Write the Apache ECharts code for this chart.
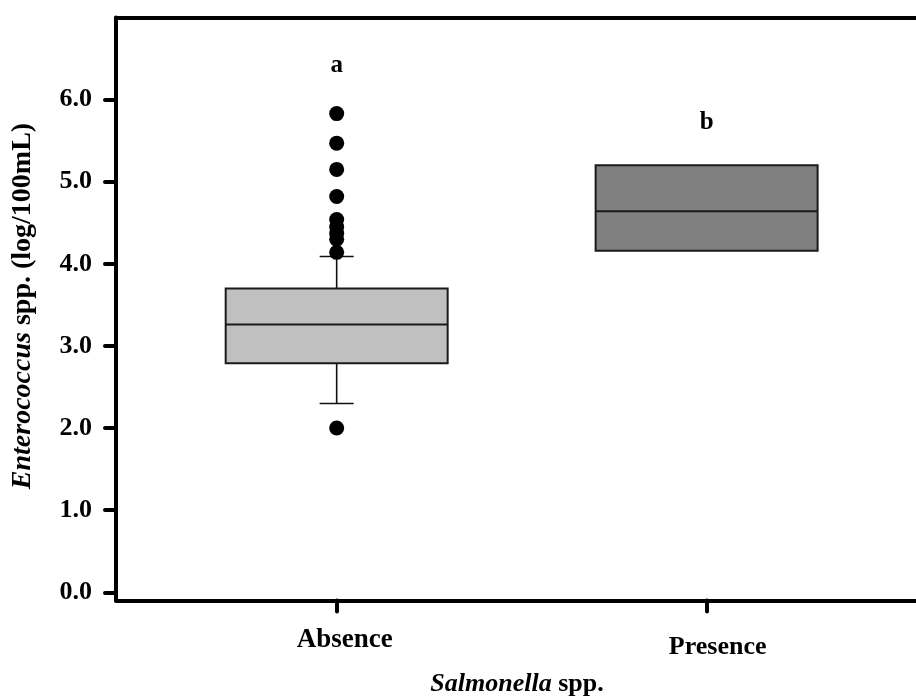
<!DOCTYPE html>
<html>
<head>
<meta charset="utf-8">
<script src="https://cdn.jsdelivr.net/npm/echarts@6/dist/echarts.min.js"></script>
<style>
  html, body { margin: 0; padding: 0; background: #ffffff; }
  #chart { width: 916px; height: 700px; }
</style>
</head>
<body>
<div id="chart"></div>
<script>
// Groups on the x axis
const categories = ['Absence', 'Presence'];
// Box statistics per group: [lower whisker, Q1, median, Q3, upper whisker]
const boxStats = [
  [2.30, 2.79, 3.26, 3.70, 4.09],
  [4.16, 4.16, 4.64, 5.20, 5.20]
];
// Outlying observations of the Absence group
const absenceOutliers = [5.83, 5.47, 5.15, 4.82, 4.54, 4.45, 4.37, 4.30, 4.14, 2.00];
// Significance letters above each group
const groupLetters = ['a', 'b'];
const letterHeights = [6.42, 5.72];
// Y-axis tick labels
const yTicks = [0, 1, 2, 3, 4, 5, 6];

const boxFills = ['#c0c0c0', '#808080'];
const FONT = '"Liberation Serif", "Times New Roman", serif';
const BOX_WIDTH = 0.6;
const CAP_WIDTH = 0.092;

const chart = echarts.init(document.getElementById('chart'), null, { renderer: 'canvas' });

const boxData = boxStats.map((s, i) => [i + 1].concat(s));
const outlierData = absenceOutliers.map(v => [1, v]);
const letterData = groupLetters.map((t, i) => [i + 1, letterHeights[i], t]);

function renderBox(params, api) {
  const x = api.value(0);
  const lo = api.coord([x, api.value(1)]);
  const q1 = api.coord([x, api.value(2)]);
  const med = api.coord([x, api.value(3)]);
  const q3 = api.coord([x, api.value(4)]);
  const hi = api.coord([x, api.value(5)]);
  const halfBox = api.size([BOX_WIDTH, 0])[0] / 2;
  const halfCap = api.size([CAP_WIDTH, 0])[0] / 2;
  const line = { stroke: '#111', lineWidth: 1.6 };
  const children = [];
  if (hi[1] < q3[1] - 0.5) {
    children.push({ type: 'line', shape: { x1: hi[0], y1: hi[1], x2: q3[0], y2: q3[1] }, style: line });
    children.push({ type: 'line', shape: { x1: hi[0] - halfCap, y1: hi[1], x2: hi[0] + halfCap, y2: hi[1] }, style: line });
  }
  if (lo[1] > q1[1] + 0.5) {
    children.push({ type: 'line', shape: { x1: lo[0], y1: lo[1], x2: q1[0], y2: q1[1] }, style: line });
    children.push({ type: 'line', shape: { x1: lo[0] - halfCap, y1: lo[1], x2: lo[0] + halfCap, y2: lo[1] }, style: line });
  }
  children.push({
    type: 'rect',
    shape: { x: q3[0] - halfBox, y: q3[1], width: halfBox * 2, height: q1[1] - q3[1] },
    style: { fill: boxFills[params.dataIndex], stroke: '#1a1a1a', lineWidth: 2 }
  });
  children.push({
    type: 'line',
    shape: { x1: med[0] - halfBox, y1: med[1], x2: med[0] + halfBox, y2: med[1] },
    style: { stroke: '#1a1a1a', lineWidth: 2 }
  });
  return { type: 'group', children: children };
}

const xMin = 0.4035, xMax = 2.593;

const option = {
  backgroundColor: '#ffffff',
  animation: false,
  textStyle: { fontFamily: FONT },
  grid: { left: 116, right: -10, top: 17.5, bottom: 99.5, containLabel: false, outerBoundsMode: 'none' },
  xAxis: [
    {
      type: 'value', min: xMin, max: xMax, position: 'bottom',
      splitLine: { show: false },
      axisLine: { show: true, onZero: false, lineStyle: { color: '#000', width: 4 } },
      axisTick: { show: true, customValues: [1, 2], length: 11, lineStyle: { color: '#000', width: 4, cap: 'round' } },
      axisLabel: {
        show: true, customValues: [1, 2], margin: 26,
        formatter: v => (v === 1 ? '{a|' : '{p|') + categories[Math.round(v) - 1] + '}',
        rich: {
          a: { fontFamily: FONT, fontSize: 27, fontWeight: 'bold', color: '#000', padding: [0, 0, 0, 16] },
          p: { fontFamily: FONT, fontSize: 26, fontWeight: 'bold', color: '#000', padding: [8, 0, 0, 22] }
        }
      }
    },
    {
      type: 'value', min: xMin, max: xMax, position: 'top',
      splitLine: { show: false },
      axisLine: { show: true, onZero: false, lineStyle: { color: '#000', width: 4 } },
      axisTick: { show: false },
      axisLabel: { show: false }
    }
  ],
  yAxis: {
    type: 'value', min: -0.1, max: 7,
    splitLine: { show: false },
    axisLine: { show: true, onZero: false, lineStyle: { color: '#000', width: 4 } },
    axisTick: { show: true, customValues: yTicks, length: 11, lineStyle: { color: '#000', width: 4, cap: 'round' } },
    axisLabel: {
      show: true, customValues: yTicks, margin: 24,
      fontFamily: FONT, fontSize: 26, fontWeight: 'bold', color: '#000',
      formatter: v => v.toFixed(1)
    }
  },
  graphic: [
    {
      type: 'text', x: 23, y: 306, rotation: Math.PI / 2,
      style: {
        x: 0, y: 0, align: 'center', verticalAlign: 'middle',
        text: '{i|Enterococcus}{n| spp. (log/100mL)}',
        rich: {
          i: { fontFamily: FONT, fontSize: 28, fontWeight: 'bold', fontStyle: 'italic', fill: '#000' },
          n: { fontFamily: FONT, fontSize: 28, fontWeight: 'bold', fill: '#000' }
        }
      }
    },
    {
      type: 'text', x: 517, y: 684,
      style: {
        x: 0, y: 0, align: 'center', verticalAlign: 'middle',
        text: '{i|Salmonella}{n| spp.}',
        rich: {
          i: { fontFamily: FONT, fontSize: 26, fontWeight: 'bold', fontStyle: 'italic', fill: '#000' },
          n: { fontFamily: FONT, fontSize: 26, fontWeight: 'bold', fill: '#000' }
        }
      }
    }
  ],
  series: [
    {
      type: 'custom', name: 'box', xAxisIndex: 0,
      renderItem: renderBox,
      encode: { x: 0, y: [1, 2, 3, 4, 5] },
      data: boxData, z: 2
    },
    {
      type: 'scatter', name: 'outliers', xAxisIndex: 0,
      symbol: 'circle', symbolSize: 15,
      itemStyle: { color: '#000', opacity: 1 },
      data: outlierData, z: 3
    },
    {
      type: 'scatter', name: 'letters', xAxisIndex: 0,
      symbolSize: 1, itemStyle: { color: 'rgba(0,0,0,0)', opacity: 1 },
      label: {
        show: true, position: 'inside', formatter: p => p.data[2],
        fontFamily: FONT, fontSize: 25, fontWeight: 'bold', color: '#000', opacity: 1
      },
      data: letterData, z: 4
    }
  ]
};

chart.setOption(option);
</script>
</body>
</html>
